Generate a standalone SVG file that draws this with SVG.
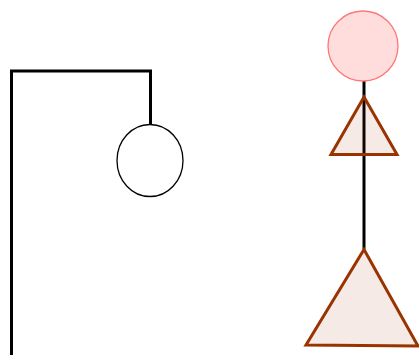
<svg xmlns="http://www.w3.org/2000/svg" width="419" height="355" viewBox="0 0 419 355">
<style>
.wire{fill:none;stroke:#000;stroke-width:3}
.tri{fill:#993300;fill-opacity:0.1;stroke:#993300;stroke-width:3;stroke-linejoin:miter}
</style>
<rect width="419" height="355" fill="#fff"/>
<g id="connectors">
<polyline class="wire" points="11.5,355 11.5,71 150.5,71 150.5,125"/>
<line class="wire" x1="364" y1="81" x2="364" y2="249"/>
</g>
<g id="ellipse"><ellipse cx="150" cy="160.5" rx="33" ry="36" fill="#fff" stroke="#000" stroke-width="1.3"/></g>
<g id="circle"><circle cx="363" cy="46" r="35" fill="#ffdddd" stroke="#ff7777" stroke-width="1.3"/></g>
<g id="smallTriangle"><polygon class="tri" points="364,97 397,154.5 331,154.5"/></g>
<g id="bigTriangle"><polygon class="tri" points="364,249.5 418,346 306,345"/></g>
</svg>
